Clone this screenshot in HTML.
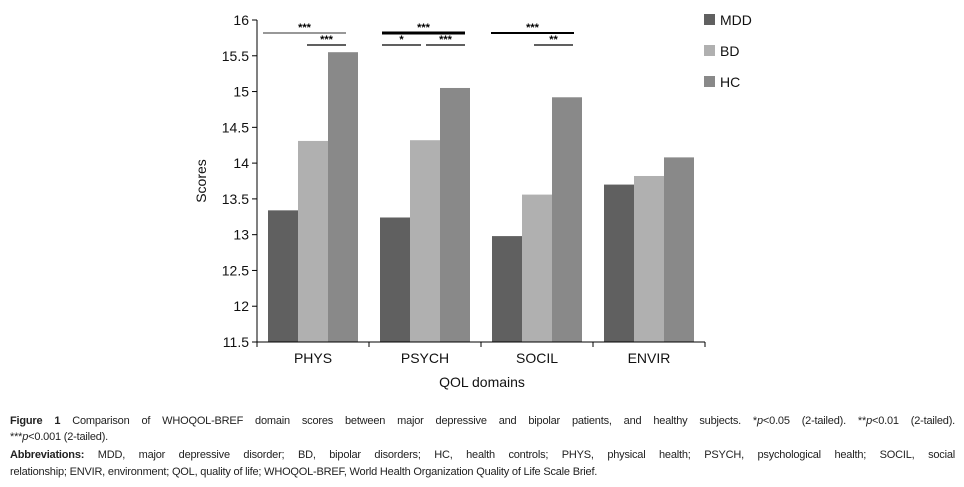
<!DOCTYPE html>
<html><head><meta charset="utf-8"><style>
body{margin:0;background:#fff;width:964px;height:487px;overflow:hidden;position:relative;font-family:"Liberation Sans",sans-serif}
.cap{position:absolute;left:10px;width:945px;font-size:11px;color:#222;text-align:justify;text-align-last:justify;line-height:16px;letter-spacing:-0.2px}
.nl{text-align-last:left}
</style></head><body>
<svg id="chart" width="964" height="400" style="position:absolute;left:0;top:0" font-family="Liberation Sans, sans-serif"></svg>
<div class="cap" style="top:413px"><b>Figure 1</b> Comparison of WHOQOL-BREF domain scores between major depressive and bipolar patients, and healthy subjects. *<i>p</i>&lt;0.05 (2-tailed). **<i>p</i>&lt;0.01 (2-tailed).</div>
<div class="cap nl" style="top:429px">***<i>p</i>&lt;0.001 (2-tailed).</div>
<div class="cap" style="top:447px"><b>Abbreviations:</b> MDD, major depressive disorder; BD, bipolar disorders; HC, health controls; PHYS, physical health; PSYCH, psychological health; SOCIL, social</div>
<div class="cap nl" style="top:464px">relationship; ENVIR, environment; QOL, quality of life; WHOQOL-BREF, World Health Organization Quality of Life Scale Brief.</div>
<script>
const categories=["PHYS","PSYCH","SOCIL","ENVIR"];
const seriesNames=["MDD","BD","HC"];
const mdd=[13.34,13.24,12.98,13.70];
const bd=[14.31,14.32,13.56,13.82];
const hc=[15.55,15.05,14.92,14.08];
const yTicks=[11.5,12,12.5,13,13.5,14,14.5,15,15.5,16];
const colors=["#606060","#b0b0b0","#898989"];
const NS="http://www.w3.org/2000/svg";
const svg=document.getElementById('chart');
const x0=257,bw=112,yMin=11.5,yMax=16,yB=342,yT=20;
const y=v=>yB-(v-yMin)/(yMax-yMin)*(yB-yT);
function mk(t,a){const e=document.createElementNS(NS,t);for(const k in a)e.setAttribute(k,a[k]);svg.appendChild(e);return e;}
const series=[mdd,bd,hc];
categories.forEach((c,i)=>{
 series.forEach((s,j)=>{
  const r=mk('rect',{x:x0+i*bw+11+j*30,y:y(s[i]),width:30,height:yB-y(s[i]),fill:colors[j]});
  
  
 });
 const t=mk('text',{x:x0+i*bw+bw/2,y:yB+21,'text-anchor':'middle','font-size':14,fill:'#111'});t.textContent=c;
 
 
});
mk('line',{x1:x0,y1:yT,x2:x0,y2:yB,stroke:'#000'});
mk('line',{x1:x0,y1:yB,x2:x0+4*bw,y2:yB,stroke:'#000'});
for(let i=0;i<=4;i++)mk('line',{x1:x0+i*bw,y1:yB,x2:x0+i*bw,y2:yB+5,stroke:'#000'});
yTicks.forEach(v=>{mk('line',{x1:x0-5,y1:y(v),x2:x0,y2:y(v),stroke:'#000'});
 const t=mk('text',{x:x0-8,y:y(v)+5,'text-anchor':'end','font-size':14,fill:'#111'});t.textContent=v;
 
 });
let t=mk('text',{x:482,y:387,'text-anchor':'middle','font-size':14,fill:'#111'});t.textContent='QOL domains';


t=mk('text',{x:0,y:0,'text-anchor':'middle','font-size':14,fill:'#111',transform:'translate(206,181) rotate(-90)'});t.textContent='Scores';


seriesNames.forEach((n,j)=>{
 const r=mk('rect',{x:704,y:14+j*31,width:11,height:11,fill:colors[j]});
 
 
 const tt=mk('text',{x:720,y:25+j*31,'font-size':14,fill:'#111'});tt.textContent=n;
 
 
});
const sig=[[263,346,33,'***','#777',1.5],[307,346,45,'***','#000',1.2],[382,465,33,'***','#000',3],[382,421,45,'*','#000',1.2],[426,465,45,'***','#000',1.2],[491,574,33,'***','#000',2],[534,573,45,'**','#000',1.2]];
sig.forEach(s=>{mk('line',{x1:s[0],y1:s[2],x2:s[1],y2:s[2],stroke:s[4],'stroke-width':s[5]});
 const tt=mk('text',{x:(s[0]+s[1])/2,y:s[2]-2,'text-anchor':'middle','font-size':11,'font-weight':'bold',fill:'#000'});tt.textContent=s[3];
 
 });
</script>
</body></html>
